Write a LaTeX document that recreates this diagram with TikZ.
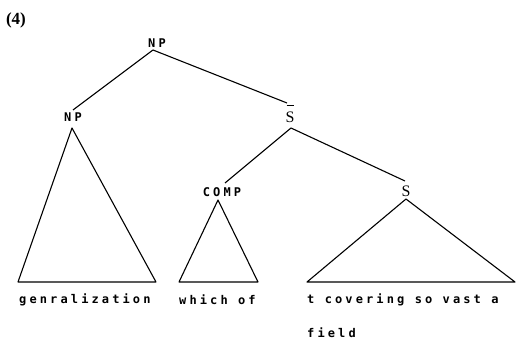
\documentclass[tikz,border=0pt]{standalone}
\usepackage{fontspec}
\newfontfamily\tw[LetterSpace=26]{DejaVu Sans Mono Bold}
\newfontfamily\sr{Liberation Serif}
\newfontfamily\srb{Liberation Serif Bold}
\begin{document}
\begin{tikzpicture}[x=1pt,y=-1pt,
  edge/.style={line width=1.1pt, line join=round},
  cat/.style={inner sep=0pt, font=\fontsize{12}{12}\tw},
  scat/.style={inner sep=0pt, font=\fontsize{16}{16}\sr},
  word/.style={inner sep=0pt, anchor=west, font=\fontsize{12}{12}\tw}]
\useasboundingbox (0,0) rectangle (518,347);
% label
\node[inner sep=0pt, font=\fontsize{17}{17}\srb] (num) at (16,20) {(4)};
% category labels
\node[cat] (np0) at (157,43) {NP};
\node[cat] (np1) at (73,117) {NP};
\node[scat] (sbar) at (290,117) {S};
\coordinate (barl) at (286.5,106);
\coordinate (barr) at (293.5,106);
\draw[line width=1pt] (barl) -- (barr);
\node[cat] (comp) at (222,192) {COMP};
\node[scat] (s) at (406,191) {S};
% attachment points
\coordinate (np0b) at (153,50);
\coordinate (np1t) at (73,110);
\coordinate (np1b) at (72,128);
\coordinate (sbart) at (287,103);
\coordinate (sbarb) at (291,128);
\coordinate (compt) at (225,183);
\coordinate (compb) at (218,200);
\coordinate (st) at (405,181);
\coordinate (sb) at (406,199);
\coordinate (t1l) at (18,282);
\coordinate (t1r) at (156,282);
\coordinate (t2l) at (179,282);
\coordinate (t2r) at (258,282);
\coordinate (t3l) at (307,282);
\coordinate (t3r) at (515,282);
% branches
\draw[edge] (np0b) -- (np1t);
\draw[edge] (np0b) -- (sbart);
\draw[edge] (sbarb) -- (compt);
\draw[edge] (sbarb) -- (st);
% triangles
\draw[edge] (np1b) -- (t1l) -- (t1r) -- cycle;
\draw[edge] (compb) -- (t2l) -- (t2r) -- cycle;
\draw[edge] (sb) -- (t3l) -- (t3r) -- cycle;
% words
\node[word] (w1) at (19,300) {genralization};
\node[word] (w2) at (179,300) {which of};
\node[word] (w3) at (307,300) {t covering so vast a};
\node[word] (w4) at (307,333) {field};
\end{tikzpicture}
\end{document}
